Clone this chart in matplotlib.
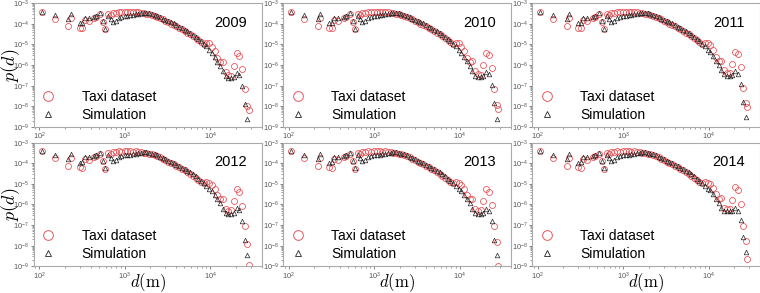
import numpy as np
import matplotlib
matplotlib.use("Agg")
import matplotlib.pyplot as plt
from matplotlib.lines import Line2D

plt.rcParams['mathtext.fontset'] = 'cm'
plt.rcParams['font.family'] = ['Liberation Sans', 'DejaVu Sans']

years = ['2009', '2010', '2011', '2012', '2013', '2014']

# distance bins (m), shared by all years
d_head = [108, 152, 220, 234, 300, 320, 342, 380, 440, 465, 520, 560, 595, 640,
          685, 730, 790, 850, 910,
          1000, 1080, 1160, 1250, 1350, 1450, 1560, 1680, 1800, 1940,
          2090, 2250, 2420, 2600, 2800, 3010, 3240, 3490, 3750, 4040,
          4350, 4680, 5040, 5420, 5840, 6280, 6760, 7280, 7830, 8430,
          9070, 9770]
d_tail = [10500, 11300, 12200, 13100, 14100, 15200, 16400, 17600, 19000,
          20400, 22000, 23700, 25500, 27400, 28500]

# the first part of p(d) is the same in every year
taxi_head = [3.98e-4, 1.78e-4, 7.76e-5, 1.86e-4, 6.46e-5, 6.03e-5, 1.55e-4, 1.38e-4,
             2.00e-4, 2.19e-4, 2.88e-4, 1.23e-4, 5.50e-5, 3.16e-4, 2.82e-4, 3.39e-4,
             3.55e-4, 3.80e-4, 3.63e-4,
             3.98e-4, 3.80e-4, 3.89e-4, 3.72e-4, 3.80e-4, 3.63e-4, 3.47e-4, 3.31e-4,
             3.16e-4, 2.95e-4, 2.69e-4, 2.45e-4, 2.19e-4, 1.91e-4, 1.66e-4, 1.41e-4,
             1.20e-4, 1.02e-4, 8.91e-5, 7.59e-5, 6.46e-5, 5.37e-5, 4.47e-5, 3.80e-5,
             3.16e-5, 2.51e-5, 2.00e-5, 1.58e-5, 1.26e-5, 1.07e-5, 1.17e-5, 1.12e-5]
sim_head = [3.98e-4, 2.57e-4, 1.66e-4, 2.88e-4, 1.05e-4, 1.15e-4, 2.00e-4, 1.91e-4,
            2.24e-4, 2.40e-4, 3.24e-4, 1.32e-4, 5.89e-5, 2.40e-4, 1.78e-4, 1.23e-4,
            1.41e-4, 2.00e-4, 2.19e-4,
            2.40e-4, 2.51e-4, 2.63e-4, 2.75e-4, 2.95e-4, 3.16e-4, 3.31e-4, 3.39e-4,
            3.39e-4, 3.24e-4, 2.95e-4, 2.69e-4, 2.40e-4, 2.09e-4, 1.82e-4, 1.58e-4,
            1.35e-4, 1.17e-4, 1.05e-4, 8.71e-5, 7.41e-5, 6.17e-5, 5.13e-5, 4.37e-5,
            3.72e-5, 2.88e-5, 2.29e-5, 1.82e-5, 1.41e-5, 1.10e-5, 8.32e-6, 5.62e-6]

# long-distance tails, per year
taxi_tail_2009 = [7.94e-6, 5.01e-6, 2.24e-6, 1.41e-6, 1.41e-6, 4.47e-7, 3.16e-7, 2.82e-7,
                  8.91e-7, 3.80e-6, 2.82e-6, 6.46e-7, 6.92e-8, 1.05e-8, 6.76e-9]
sim_tail_2009 = [3.80e-6, 2.40e-6, 1.48e-6, 8.91e-7, 5.01e-7, 2.82e-7, 2.40e-7, 2.40e-7,
                 2.63e-7, 4.17e-7, 3.31e-7, 1.00e-7, 1.29e-8, 2.40e-9, np.nan]
taxi_tail_2010 = [7.94e-6, 4.79e-6, 2.24e-6, 1.41e-6, 1.58e-6, 5.01e-7, 3.55e-7, 3.16e-7,
                  1.00e-6, 3.98e-6, 3.16e-6, 7.08e-7, 7.08e-8, 1.12e-8, 7.08e-9]
sim_tail_2010 = [3.98e-6, 2.51e-6, 1.51e-6, 8.91e-7, 5.01e-7, 2.82e-7, 2.51e-7, 2.63e-7,
                 2.82e-7, 4.47e-7, 3.55e-7, 1.12e-7, 1.41e-8, 2.51e-9, np.nan]
taxi_tail_2011 = [8.91e-6, 5.25e-6, 2.51e-6, 1.58e-6, 1.66e-6, 5.62e-7, 3.98e-7, 3.98e-7,
                  1.12e-6, 4.27e-6, 3.55e-6, 7.94e-7, 7.94e-8, 1.41e-8, 8.91e-9]
sim_tail_2011 = [4.17e-6, 2.63e-6, 1.66e-6, 1.00e-6, 5.62e-7, 3.55e-7, 3.02e-7, 3.02e-7,
                 3.16e-7, 5.01e-7, 3.55e-7, 1.26e-7, 1.58e-8, 3.16e-9, np.nan]
taxi_tail_2012 = [8.91e-6, 5.62e-6, 2.82e-6, 1.78e-6, 1.91e-6, 6.31e-7, 5.01e-7, 5.62e-7,
                  1.41e-6, 5.62e-6, 3.89e-6, 8.71e-7, 9.33e-8, 1.23e-8, 1.20e-9]
sim_tail_2012 = [4.47e-6, 2.82e-6, 1.78e-6, 1.12e-6, 6.31e-7, 3.98e-7, 3.55e-7, 3.55e-7,
                 3.80e-7, 6.76e-7, 5.25e-7, 1.51e-7, 1.95e-8, 3.63e-9, np.nan]
taxi_tail_2013 = [8.91e-6, 5.62e-6, 2.82e-6, 1.78e-6, 1.91e-6, 6.31e-7, 5.01e-7, 5.62e-7,
                  1.41e-6, 5.62e-6, 3.98e-6, 8.91e-7, 9.33e-8, 1.45e-8, 1.00e-9]
sim_tail_2013 = [4.47e-6, 2.82e-6, 1.78e-6, 1.12e-6, 6.31e-7, 3.98e-7, 3.55e-7, 3.55e-7,
                 3.98e-7, 6.31e-7, 5.01e-7, 1.58e-7, 1.78e-8, 3.55e-9, np.nan]
taxi_tail_2014 = [1.00e-5, 6.31e-6, 3.16e-6, 1.91e-6, 2.00e-6, 7.08e-7, 6.03e-7, 6.31e-7,
                  1.58e-6, 7.08e-6, 5.01e-6, 1.10e-6, 8.71e-8, 1.62e-8, 2.24e-9]
sim_tail_2014 = [5.01e-6, 3.16e-6, 1.91e-6, 1.20e-6, 7.08e-7, 5.01e-7, 4.68e-7, 4.68e-7,
                 5.01e-7, 7.08e-7, 5.01e-7, 1.82e-7, 2.51e-8, 4.68e-9, np.nan]

taxi_tails = [taxi_tail_2009, taxi_tail_2010, taxi_tail_2011,
              taxi_tail_2012, taxi_tail_2013, taxi_tail_2014]
sim_tails = [sim_tail_2009, sim_tail_2010, sim_tail_2011,
             sim_tail_2012, sim_tail_2013, sim_tail_2014]

red = '#e5585c'
W, H = 760, 293
fig = plt.figure(figsize=(7.6, 2.93), dpi=100)

lefts = [33.5, 283, 532]
tops = [3.3, 142.7]
aw, ah = 228, 123.5

d = d_head + d_tail
for i, year in enumerate(years):
    r, c = divmod(i, 3)
    ax = fig.add_axes([lefts[c] / W, 1 - (tops[r] + ah) / H, aw / W, ah / H])
    ax.plot(d, taxi_head + taxi_tails[i], 'o', ms=4.3, mfc='none', mec=red, mew=0.6)
    ax.plot(d, sim_head + sim_tails[i], '^', ms=3.3, mfc='none', mec='#222222', mew=0.5)
    ax.set_xscale('log')
    ax.set_yscale('log')
    ax.set_xlim(86, 40000)
    ax.set_ylim(1e-9, 1e-3)
    ax.tick_params(which='both', labelsize=5.3, colors='#555555', length=2, width=0.5, pad=1)
    ax.tick_params(which='minor', length=1.2, width=0.4)
    for s in ax.spines.values():
        s.set_color('#aaaaaa')
        s.set_linewidth(0.8)
    ax.text(0.935, 0.84, year, transform=ax.transAxes, ha='right', va='center', fontsize=10.5)
    if r == 1:
        ax.set_xlabel(r'$d(\mathrm{m})$', fontsize=12)
        ax.xaxis.set_label_coords(0.5, -0.045)
    if c == 0:
        ax.set_ylabel(r'$p(d)$', fontsize=13)
        ax.yaxis.set_label_coords(-0.05, 0.5)
    handles = [Line2D([], [], ls='none', marker='o', ms=7, mfc='none', mec=red, mew=0.7),
               Line2D([], [], ls='none', marker='^', ms=4, mfc='none', mec='#222222', mew=0.6)]
    ax.legend(handles, ['Taxi dataset', 'Simulation'], loc='lower left', frameon=False,
              fontsize=10, handlelength=1.0, handletextpad=1.9, labelspacing=0.3,
              borderaxespad=0.0, bbox_to_anchor=(0.01, -0.005))

fig.savefig('out.png', dpi=100)
